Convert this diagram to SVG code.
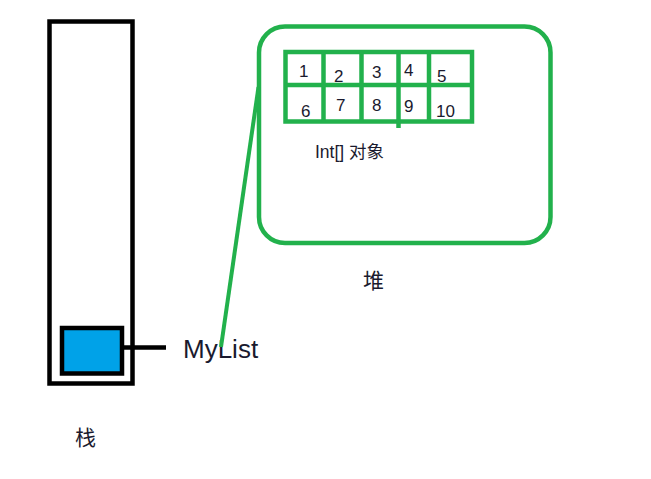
<svg xmlns="http://www.w3.org/2000/svg" width="651" height="479" viewBox="0 0 651 479">
<style>
.blk{fill:none;stroke:#000;stroke-width:4.5}
.grn{fill:none;stroke:#22B14C;stroke-width:4.5}
.t{font-family:"Liberation Sans","Noto Sans CJK SC",sans-serif;fill:#1a1a2e}
.n{font-size:17px}
</style>
<rect width="651" height="479" fill="#fff"/>
<g id="stack">
<rect class="blk" x="49.5" y="21.5" width="83" height="362"/>
<text class="t" x="75" y="445" font-size="21">栈</text>
</g>
<g id="mylist">
<rect x="62" y="328" width="60" height="45.5" fill="#00A2E8" stroke="#000" stroke-width="4.5"/>
<text class="t" x="183" y="358" font-size="26">MyList</text>
</g>
<g id="heap">
<rect class="grn" x="259" y="26.5" width="291.5" height="216.5" rx="26" ry="26"/>
<text class="t" x="363" y="288" font-size="21">堆</text>
</g>
<g id="intarray">
<rect class="grn" x="285.5" y="52" width="186.5" height="69.5"/>
<line class="grn" x1="285.5" y1="85" x2="472" y2="85"/>
<line class="grn" x1="323.5" y1="52" x2="323.5" y2="121.5"/>
<line class="grn" x1="361.5" y1="52" x2="361.5" y2="121.5"/>
<line class="grn" x1="398.5" y1="52" x2="398.5" y2="128"/>
<line class="grn" x1="429" y1="52" x2="429" y2="121.5"/>
<g class="t n">
<text x="299" y="77">1</text>
<text x="334" y="82">2</text>
<text x="372" y="78">3</text>
<text x="404" y="76">4</text>
<text x="437" y="82">5</text>
<text x="301" y="117">6</text>
<text x="336" y="111">7</text>
<text x="372" y="111">8</text>
<text x="404" y="112">9</text>
<text x="436" y="117">10</text>
</g>
<text class="t" x="315" y="158" font-size="17.5">Int[] 对象</text>
</g>
<g id="connectors">
<line x1="124" y1="347.5" x2="166" y2="347.5" stroke="#000" stroke-width="4.5"/>
<line x1="221" y1="347" x2="258.5" y2="87" stroke="#22B14C" stroke-width="4"/>
</g>
</svg>
